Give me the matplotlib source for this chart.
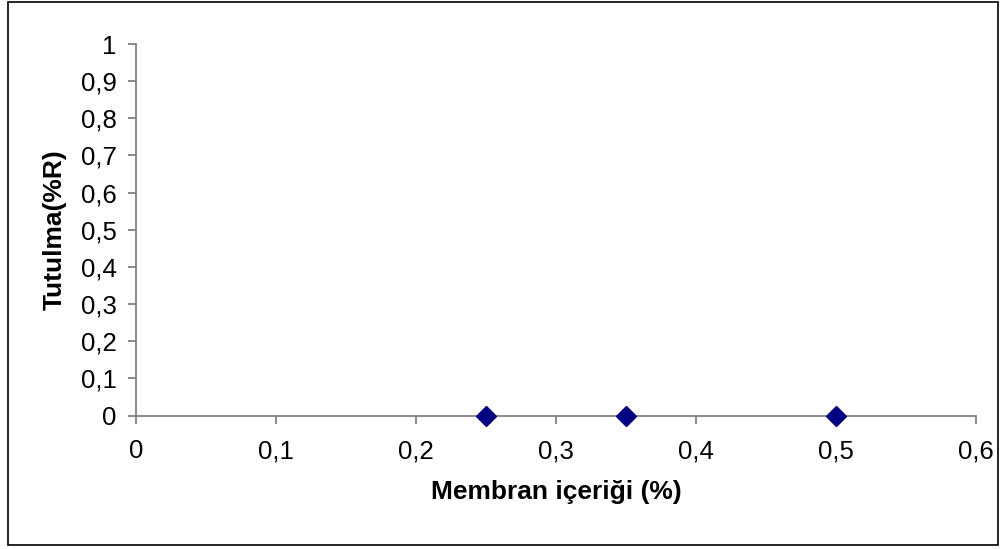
import matplotlib
matplotlib.use("Agg")
import matplotlib.pyplot as plt
from matplotlib.patches import Rectangle
from matplotlib.ticker import FixedLocator, FuncFormatter

plt.rcParams['font.family'] = ['Liberation Sans', 'DejaVu Sans']

x_values = [0.25, 0.35, 0.5]
y_values = [0, 0, 0]
x_ticks = [0, 0.1, 0.2, 0.3, 0.4, 0.5, 0.6]
y_ticks = [0, 0.1, 0.2, 0.3, 0.4, 0.5, 0.6, 0.7, 0.8, 0.9, 1]
x_label = "Membran içeriği (%)"
y_label = "Tutulma(%R)"

W, H = 1008, 549
fig = plt.figure(figsize=(W/100, H/100), dpi=100)
ax = fig.add_axes([136/W, 1-415.5/H, (976-136)/W, (415.5-44)/H])

ax.plot(x_values, y_values, linestyle='none', marker='D', markersize=10,
        color='#000080', clip_on=False, zorder=5)

ax.set_xlim(0, 0.6)
ax.set_ylim(0, 1)
ax.xaxis.set_major_locator(FixedLocator(x_ticks))
ax.yaxis.set_major_locator(FixedLocator(y_ticks))
fmt = FuncFormatter(lambda v, p: ('%g' % round(v, 2)).replace('.', ','))
ax.xaxis.set_major_formatter(fmt)
ax.yaxis.set_major_formatter(fmt)

for s in ['top', 'right']:
    ax.spines[s].set_visible(False)
for s in ['left', 'bottom']:
    ax.spines[s].set_color('#808080')
    ax.spines[s].set_linewidth(1.3)
ax.tick_params(axis='both', direction='out', length=6, width=1.3, color='#808080',
               labelsize=18.5, labelcolor='black')
ax.tick_params(axis='x', pad=11)
ax.tick_params(axis='y', pad=8)

ax.set_xlabel(x_label, fontsize=19, fontweight='bold', labelpad=12)
ax.set_ylabel(y_label, fontsize=19, fontweight='bold', labelpad=10)

fig.patches.append(Rectangle((7.5/W, 1-545/H), (998-7.5)/W, (545-2)/H, transform=fig.transFigure,
                             fill=False, edgecolor='black', linewidth=1.2))

fig.savefig('out.png', dpi=100)
